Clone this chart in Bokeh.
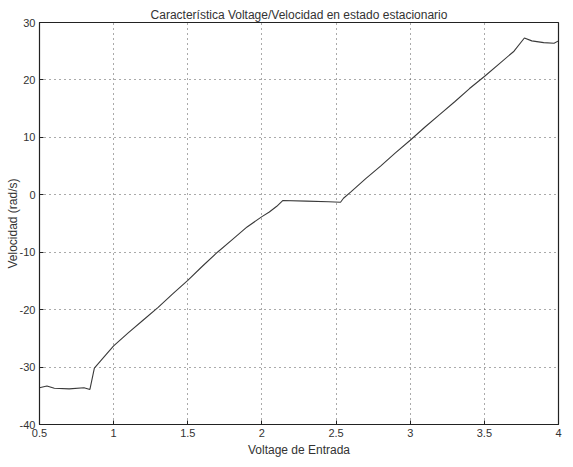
from bokeh.plotting import figure
from bokeh.models import FixedTicker, Range1d
from bokeh.embed import file_html
from bokeh.resources import INLINE

# Data
voltage = [0.5, 0.55, 0.6, 0.7, 0.8, 0.84, 0.87, 0.95, 1.0, 1.1, 1.2, 1.3, 1.4, 1.5,
           1.6, 1.7, 1.8, 1.9, 2.0, 2.05, 2.1, 2.14, 2.3, 2.45, 2.53, 2.55, 2.6, 2.7,
           2.8, 2.9, 3.0, 3.1, 3.2, 3.3, 3.4, 3.5, 3.6, 3.7, 3.77, 3.82, 3.9, 3.97, 4.0]
velocidad = [-33.6, -33.3, -33.7, -33.8, -33.6, -33.9, -30.2, -27.8, -26.3, -24.0,
             -21.8, -19.6, -17.2, -14.9, -12.4, -10.0, -7.8, -5.6, -3.8, -3.0, -2.0,
             -1.0, -1.1, -1.2, -1.3, -0.6, 0.5, 2.8, 5.0, 7.3, 9.5, 11.8, 14.0, 16.2,
             18.5, 20.6, 22.8, 25.0, 27.3, 26.8, 26.5, 26.4, 26.8]

x_ticks = [0.5, 1, 1.5, 2, 2.5, 3, 3.5, 4]
x_tick_labels = ["0.5", "1", "1.5", "2", "2.5", "3", "3.5", "4"]
y_ticks = [-40, -30, -20, -10, 0, 10, 20, 30]
y_tick_labels = ["-40", "-30", "-20", "-10", "0", "10", "20", "30"]

title_text = "Característica Voltage/Velocidad en estado estacionario"
x_label = "Voltage de Entrada"
y_label = "Velocidad (rad/s)"

FONT = "Liberation Sans"
TXT = "#333333"

p = figure(width=565, height=459, output_backend="svg", toolbar_location=None,
           x_range=Range1d(0.5, 4), y_range=Range1d(-40, 30),
           min_border_left=39, min_border_right=7, min_border_top=22,
           min_border_bottom=35, title=title_text)

p.title.text_font = FONT
p.title.text_font_size = "12px"
p.title.text_font_style = "normal"
p.title.text_color = TXT
p.title.align = "center"
p.title.standoff = 2

p.outline_line_color = "#222222"
p.outline_line_width = 1.2
p.background_fill_color = "white"
p.border_fill_color = "white"

for ax in (p.xaxis[0], p.yaxis[0]):
    ax.major_label_text_font = FONT
    ax.major_label_text_font_size = "11px"
    ax.major_label_text_color = TXT
    ax.axis_label_text_font = FONT
    ax.axis_label_text_font_size = "12px"
    ax.axis_label_text_font_style = "normal"
    ax.axis_label_text_color = TXT
    ax.axis_line_color = "#222222"
    ax.major_tick_in = 4
    ax.major_tick_out = 0
    ax.major_tick_line_color = "#222222"
    ax.minor_tick_line_color = None

p.xaxis[0].major_label_standoff = 4
p.xaxis[0].axis_label_standoff = 3
p.yaxis[0].major_label_standoff = 4
p.yaxis[0].axis_label_standoff = -3

p.xaxis[0].ticker = FixedTicker(ticks=x_ticks)
p.xaxis[0].major_label_overrides = dict(zip(x_ticks, x_tick_labels))
p.yaxis[0].ticker = FixedTicker(ticks=y_ticks)
p.yaxis[0].major_label_overrides = dict(zip(y_ticks, y_tick_labels))
p.xaxis[0].axis_label = x_label
p.yaxis[0].axis_label = y_label

for g in (p.xgrid[0], p.ygrid[0]):
    g.grid_line_color = "#555555"
    g.grid_line_dash = "1 4"
    g.grid_line_width = 1

p.line(voltage, velocidad, line_color="#3a3a3a", line_width=1.1)

open("out.html", "w").write(file_html(p, INLINE))
